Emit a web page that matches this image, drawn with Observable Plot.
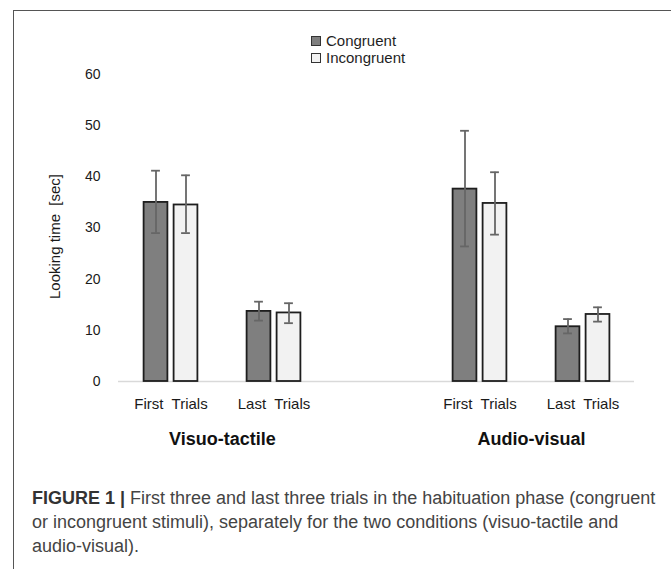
<!DOCTYPE html>
<html>
<head>
<meta charset="utf-8">
<script src="https://cdn.jsdelivr.net/npm/d3@7"></script>
<script src="https://cdn.jsdelivr.net/npm/@observablehq/plot@0.6"></script>
<style>
  html, body { margin: 0; padding: 0; background: #fff; }
  #page { position: relative; width: 671px; height: 569px; overflow: hidden; background: #fff;
          font-family: "Liberation Sans", Arial, sans-serif; }
  #frame { position: absolute; left: 13px; top: 10px; width: 720px; height: 620px;
           border-top: 1.5px solid #555; border-left: 1.5px solid #555; }
  #legend { position: absolute; left: 311px; top: 32px; font-size: 15px; color: #1f1f1f; }
  #legend .row { display: flex; align-items: center; height: 17px; line-height: 17px; }
  #legend .sw { width: 10px; height: 10px; box-sizing: border-box; border: 1.5px solid #333; margin-right: 5px; }
  #chart { position: absolute; left: 0; top: 60px; }
  #caption { position: absolute; left: 32px; top: 486px; font-size: 18px; line-height: 24px;
             color: #444; white-space: nowrap; }
  #caption b { color: #333; }
</style>
</head>
<body>
<div id="page">
  <div id="frame"></div>
  <div id="legend"></div>
  <div id="chart"></div>
  <div id="caption"><b>FIGURE 1 |</b> First three and last three trials in the habituation phase (congruent<br>or incongruent stimuli), separately for the two conditions (visuo-tactile and<br>audio-visual).</div>
</div>
<script>
// ---- data ----
const conditions = ["Visuo-tactile", "Audio-visual"];
const periods = ["First", "Last"];
const periodLabels = ["First\u00a0 Trials", "Last\u00a0 Trials"];
const stimuli = ["Congruent", "Incongruent"];
const stimulusColors = ["#7f7f7f", "#f2f2f2"];
const yTicks = [0, 10, 20, 30, 40, 50, 60];
const yLabel = "Looking time\u00a0 [sec]";
// order: Visuo-tactile First, Visuo-tactile Last, Audio-visual First, Audio-visual Last
const congruentMean = [35.0, 13.7, 37.6, 10.7];
const congruentLow = [29.0, 11.9, 26.4, 9.4];
const congruentHigh = [41.2, 15.6, 49.0, 12.2];
const incongruentMean = [34.5, 13.4, 34.8, 13.1];
const incongruentLow = [29.0, 11.4, 28.7, 11.7];
const incongruentHigh = [40.3, 15.3, 40.9, 14.5];

// ---- build tables ----
const SPACER = "spacer";
const keyOf = (c, p) => `${c}|${p}`;
const xDomain = [
  keyOf(conditions[0], periods[0]), keyOf(conditions[0], periods[1]),
  SPACER,
  keyOf(conditions[1], periods[0]), keyOf(conditions[1], periods[1])
];
function rowsFor(mean, low, high) {
  const rows = [];
  conditions.forEach((c, ci) => periods.forEach((p, pi) => {
    const i = ci * periods.length + pi;
    rows.push({key: keyOf(c, p), value: mean[i], low: low[i], high: high[i]});
  }));
  return rows;
}
const congruentRows = rowsFor(congruentMean, congruentLow, congruentHigh);
const incongruentRows = rowsFor(incongruentMean, incongruentLow, incongruentHigh);

// ---- legend ----
const legend = document.getElementById("legend");
stimuli.forEach((s, i) => {
  const row = document.createElement("div");
  row.className = "row";
  const sw = document.createElement("span");
  sw.className = "sw";
  sw.style.background = stimulusColors[i];
  const t = document.createElement("span");
  t.textContent = s;
  row.appendChild(sw); row.appendChild(t);
  legend.appendChild(row);
});

// ---- layout constants (style only) ----
const W = 671, H = 400, ML = 118, MR = 37, MT = 14, MB = 79;
const BAND = (W - ML - MR) / xDomain.length;
const OFF = 15, BARW = 24, CAP = 9;
const barInsets = (sign) => {
  const left = BAND / 2 + sign * OFF - BARW / 2;
  return {insetLeft: left, insetRight: BAND - left - BARW};
};
const capInsets = (sign) => {
  const left = BAND / 2 + sign * OFF - CAP / 2;
  return {insetLeft: left, insetRight: BAND - left - CAP};
};
const tickFormat = k => k === SPACER ? "" : periodLabels[periods.indexOf(k.split("|")[1])];

function seriesMarks(rows, sign, fill) {
  return [
    Plot.barY(rows, {x: "key", y: "value", fill, stroke: "#1e1e1e", strokeWidth: 1.8, ...barInsets(sign)}),
    Plot.ruleX(rows, {x: "key", y1: "low", y2: "high", dx: sign * OFF, stroke: "#666", strokeWidth: 1.8}),
    Plot.tickY(rows, {x: "key", y: "high", stroke: "#666", strokeWidth: 1.8, ...capInsets(sign)}),
    Plot.tickY(rows, {x: "key", y: "low", stroke: "#666", strokeWidth: 1.8, ...capInsets(sign)})
  ];
}

const chart = Plot.plot({
  width: W, height: H,
  marginLeft: ML, marginRight: MR, marginTop: MT, marginBottom: MB,
  style: {fontFamily: "'Liberation Sans', Arial, sans-serif", fontSize: "14px", color: "#1a1a1a", background: "transparent", overflow: "visible"},
  x: {domain: xDomain, padding: 0, axis: null},
  y: {domain: [0, 60], axis: null},
  marks: [
    Plot.axisY({ticks: yTicks, tickSize: 0, tickPadding: 18, fontSize: 14, label: null, fill: "#1a1a1a"}),
    Plot.axisX({tickSize: 0, tickPadding: 17, tickFormat, fontSize: 15, label: null, fill: "#1a1a1a"}),
    Plot.ruleY([0], {stroke: "#d9d9d9", strokeWidth: 1.5}),
    ...seriesMarks(congruentRows, -1, stimulusColors[0]),
    ...seriesMarks(incongruentRows, 1, stimulusColors[1]),
    Plot.text(conditions, {x: c => keyOf(c, periods[1]), text: d => d, frameAnchor: "bottom",
      dx: -BAND / 2, dy: 63, fontSize: 18, fontWeight: "bold", fill: "#111"}),
    Plot.text([yLabel], {text: d => d, frameAnchor: "left", textAnchor: "middle", rotate: -90,
      dx: -63, dy: 8.5, fontSize: 15, fill: "#1a1a1a"})
  ]
});
document.getElementById("chart").appendChild(chart);
</script>
</body>
</html>
